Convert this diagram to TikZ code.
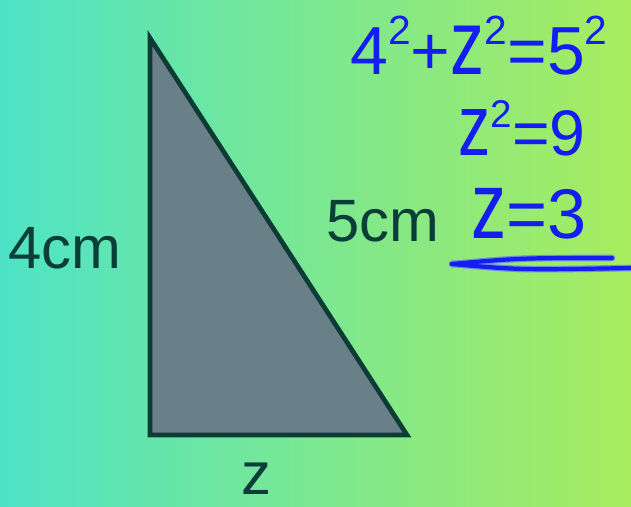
\documentclass[tikz,border=0pt]{standalone}
\usepackage{fontspec}
\setmainfont{Liberation Sans}
\usepackage{graphicx}
\usepackage{tikz}
\usetikzlibrary{positioning, calc}
\definecolor{bgleft}{RGB}{78, 227, 198}
\definecolor{bgright}{RGB}{168, 236, 94}
\definecolor{triFill}{RGB}{106, 128, 136}
\definecolor{triEdge}{RGB}{13, 59, 54}
\definecolor{labelInk}{RGB}{11, 61, 57}
\definecolor{penInk}{RGB}{20, 30, 240}
\definecolor{penGlow}{RGB}{110, 140, 235}
\newcommand{\sqd}{\raisebox{0.45em}{\scalebox{0.6}{2}}}
\newcommand{\tallz}{\scalebox{1}[1.35]{z}}

\begin{document}
\begin{tikzpicture}[x=0.03cm, y=-0.03cm,
        side/.style={text=labelInk, font=\fontsize{51}{54}\selectfont, inner sep=0pt, anchor=base},
        pen/.style={text=penInk, inner sep=0pt, anchor=base},
        penline/.style={line width=3.6pt, penInk, line cap=round},
        penhalo/.style={line width=5.6pt, penGlow, line cap=round}]
    \useasboundingbox (0,0) rectangle (631,507);
    \shade[left color=bgleft, right color=bgright] (0,0) rectangle (631,507);
    % triangle
    \coordinate (top) at (150,38);
    \coordinate (corner) at (150,435);
    \coordinate (foot) at (407,435);
    \filldraw[fill=triFill, draw=triEdge, line width=4pt, line join=miter] (top) -- (corner) -- (foot) -- cycle;
    % side labels
    \node[side] (lblA) at (65,268) {4cm};
    \node[side] (lblC) at (383,241) {5cm};
    \node[side] (lblB) at (256,494) {z};
    % working
    \node[pen, font=\fontsize{58}{62}\selectfont] (eqA) at (479,75)
        {4\sqd+\tallz\sqd=5\sqd};
    \node[pen, font=\fontsize{55}{60}\selectfont] (eqB) at (522,156)
        {\tallz\sqd=9};
    \node[pen, font=\fontsize{60}{64}\selectfont] (eqC) at (529,238)
        {\tallz=3};
    \coordinate (ulA) at (452,264);
    \coordinate (ulB) at (612,258);
    \coordinate (ulC) at (631,268);
    \foreach \s in {penhalo, penline}{
        \draw[\s] (ulA) .. controls (520,258) .. (ulB);
        \draw[\s] (ulA) .. controls (520,270) .. (ulC);
    }
\end{tikzpicture}
\end{document}
